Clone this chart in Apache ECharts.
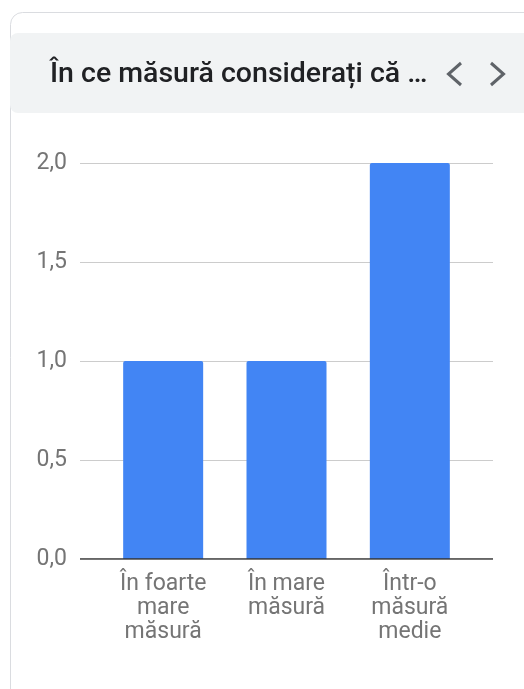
<!DOCTYPE html>
<html><head><meta charset="utf-8">
<script src="https://cdn.jsdelivr.net/npm/echarts@6/dist/echarts.min.js"></script>
<style>html,body{margin:0;padding:0;background:#fff}#c{width:524px;height:689px}</style>
</head><body><div id="c"></div>
<script>
const title = 'În ce măsură considerați că …';
const categories = ['În foarte\nmare\nmăsură', 'În mare\nmăsură', 'Într-o\nmăsură\nmedie'];
const values = [1, 1, 2];
const yTicks = [0, 0.5, 1, 1.5, 2];

const chart = echarts.init(document.getElementById('c'), null, {renderer: 'canvas'});
const fmt = v => v.toFixed(1).replace('.', ',');
chart.setOption({
  animation: false,
  textStyle: {fontFamily: 'Roboto'},
  graphic: [
    {type: 'rect', shape: {x: 10.5, y: 12.5, width: 540, height: 700, r: 12}, style: {fill: '#fff', stroke: '#dadce0', lineWidth: 1}, z: -10},
    {type: 'rect', shape: {x: 10, y: 33, width: 540, height: 80, r: 8}, style: {fill: '#f1f3f4'}, z: -5},
    {type: 'text', x: 50, y: 75, style: {text: title, font: '500 28.5px Roboto', fill: '#202124', textVerticalAlign: 'middle'}},
    {type: 'polyline', shape: {points: [[461, 63], [448.5, 74], [461, 85]]}, style: {stroke: '#5f6368', lineWidth: 3, fill: null}},
    {type: 'polyline', shape: {points: [[491, 63], [503.5, 74], [491, 85]]}, style: {stroke: '#5f6368', lineWidth: 3, fill: null}}
  ],
  grid: [
    {left: 80, right: 31, top: 163, height: 396},
    {left: 101.5, width: 370, top: 163, height: 396}
  ],
  xAxis: [
    {gridIndex: 0, type: 'value', min: 0, max: 1, show: false},
    {gridIndex: 1, type: 'category', data: categories,
     axisLine: {show: false}, axisTick: {show: false},
     axisLabel: {color: '#757575', fontSize: 23, lineHeight: 24, margin: 13, fontFamily: 'Roboto', interval: 0}}
  ],
  yAxis: [
    {gridIndex: 0, type: 'value', min: 0, max: 2, interval: 0.5,
     axisLine: {show: false}, axisTick: {show: false},
     splitLine: {lineStyle: {color: '#cccccc', width: 1}},
     axisLabel: {formatter: fmt, color: '#757575', fontSize: 23, margin: 13, fontFamily: 'Roboto'}},
    {gridIndex: 1, type: 'value', min: 0, max: 2, interval: 0.5, show: false, splitLine: {show: false}}
  ],
  series: [
    {type: 'line', xAxisIndex: 0, yAxisIndex: 0, data: [[0, 0], [1, 0]], symbol: 'none',
     lineStyle: {color: '#333333', width: 1.5}, z: 5, silent: true},
    {type: 'bar', xAxisIndex: 1, yAxisIndex: 1, data: values, barWidth: 80,
     itemStyle: {color: '#4285f4', borderRadius: [2, 2, 0, 0]}, z: 3}
  ]
});
</script></body></html>
